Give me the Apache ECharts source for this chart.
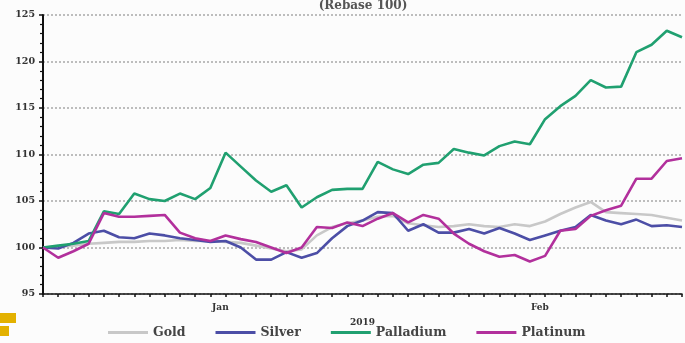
<!DOCTYPE html>
<html><head><meta charset="utf-8">
<script src="https://cdn.jsdelivr.net/npm/echarts@6/dist/echarts.min.js"></script>
<style>html,body{margin:0;padding:0;background:#fcfcfc}#c{width:685px;height:343px}</style>
</head><body><div id="c"></div>
<script>
const categories = ['2018-12-31',
 '2019-01-02','2019-01-03','2019-01-04','2019-01-07','2019-01-08','2019-01-09','2019-01-10','2019-01-11',
 '2019-01-14','2019-01-15','2019-01-16','2019-01-17','2019-01-18','2019-01-21','2019-01-22','2019-01-23',
 '2019-01-24','2019-01-25','2019-01-28','2019-01-29','2019-01-30','2019-01-31',
 '2019-02-01','2019-02-04','2019-02-05','2019-02-06','2019-02-07','2019-02-08','2019-02-11','2019-02-12',
 '2019-02-13','2019-02-14','2019-02-15','2019-02-18','2019-02-19','2019-02-20','2019-02-21','2019-02-22',
 '2019-02-25','2019-02-26','2019-02-27','2019-02-28'];
const monthLabels = {11: 'Jan', 32: 'Feb'};
const gold = [100,100.1,100.2,100.4,100.5,100.6,100.6,100.7,100.7,100.8,100.7,100.7,100.6,100.5,100.2,99.9,99.6,99.8,101.3,102.2,102.6,102.9,103.3,103.4,102.6,102.4,102.2,102.3,102.5,102.3,102.2,102.5,102.3,102.8,103.6,104.3,104.9,103.8,103.7,103.6,103.5,103.2,102.9];
const silver = [100,99.9,100.5,101.5,101.8,101.1,101.0,101.5,101.3,101.0,100.8,100.6,100.7,100.0,98.7,98.7,99.5,98.9,99.4,101.0,102.3,102.9,103.8,103.7,101.8,102.5,101.6,101.6,102.0,101.5,102.1,101.5,100.8,101.3,101.8,102.2,103.5,102.9,102.5,103.0,102.3,102.4,102.2];
const palladium = [100,100.2,100.4,100.7,103.9,103.6,105.8,105.2,105.0,105.8,105.2,106.4,110.2,108.7,107.2,106.0,106.7,104.3,105.4,106.2,106.3,106.3,109.2,108.4,107.9,108.9,109.1,110.6,110.2,109.9,110.9,111.4,111.1,113.8,115.2,116.3,118.0,117.2,117.3,121.0,121.8,123.3,122.6];
const platinum = [100,98.9,99.6,100.4,103.7,103.3,103.3,103.4,103.5,101.6,101.0,100.7,101.3,100.9,100.6,100.0,99.4,100.0,102.2,102.1,102.7,102.3,103.1,103.7,102.7,103.5,103.1,101.5,100.4,99.6,99.0,99.2,98.5,99.1,101.8,102.0,103.4,104.0,104.5,107.4,107.4,109.3,109.6];
const seriesNames = ['Gold','Silver','Palladium','Platinum'];
const seriesColors = ['#c8c8c8','#4c4ea6','#20a070','#b2309c'];
const seriesData = [gold, silver, palladium, platinum];

const serif = "'DejaVu Serif', serif";
const chart = echarts.init(document.getElementById('c'), null, {renderer:'canvas'});
chart.setOption({
  backgroundColor: '#fcfcfc',
  animation: false,
  title: { text: '(Rebase 100)', left: 358, textAlign: 'center', top: -5,
    textStyle: { fontFamily: serif, fontSize: 12, fontWeight: 'bold', color: '#555' } },
  grid: { left: 43, right: 0, top: 15, bottom: 49, containLabel: false },
  legend: {
    top: 326, left: 108, padding: 0, itemWidth: 40, itemHeight: 3, itemGap: 30,
    icon: 'rect',
    textStyle: { fontFamily: serif, fontSize: 12.5, fontWeight: 'bold', color: '#444' },
    data: seriesNames
  },
  xAxis: {
    type: 'category', data: categories, boundaryGap: false,
    name: '2019', nameLocation: 'middle', nameGap: 24,
    nameTextStyle: { fontFamily: serif, fontSize: 9, fontWeight: 'bold', color: '#333' },
    axisLine: { lineStyle: { color: '#111', width: 1.5 } },
    axisTick: { show: true, interval: 0, length: 3, lineStyle: { color: '#111', width: 1.5 } },
    axisLabel: {
      interval: 0, margin: 9, padding: [0,0,0,20],
      fontFamily: serif, fontSize: 9, fontWeight: 'bold', color: '#333',
      formatter: (v, i) => monthLabels[i] || ''
    },
    splitLine: { show: false }
  },
  yAxis: {
    type: 'value', min: 95, max: 125, interval: 5,
    axisLine: { show: true, lineStyle: { color: '#111', width: 2 } },
    axisTick: { show: true, length: 4, lineStyle: { color: '#111', width: 1.5 } },
    minorTick: { show: true, splitNumber: 5, length: 3, lineStyle: { color: '#111', width: 1.2 } },
    axisLabel: { margin: 8, fontFamily: serif, fontSize: 9.5, fontWeight: 'bold', color: '#333' },
    splitLine: { show: true, lineStyle: { color: '#a8a8a8', type: [2,2], width: 1.5 } }
  },
  series: seriesNames.map((n, k) => ({
    name: n, type: 'line', data: seriesData[k], symbol: 'none',
    lineStyle: { color: seriesColors[k], width: 2.6 },
    itemStyle: { color: seriesColors[k] },
    z: 2 + k
  })),
  graphic: [
    { type: 'rect', left: 0, top: 313, shape: { width: 16, height: 10 }, style: { fill: '#e3b100' } },
    { type: 'rect', left: 0, top: 326, shape: { width: 9, height: 10 }, style: { fill: '#e3b100' } }
  ]
});
</script></body></html>
